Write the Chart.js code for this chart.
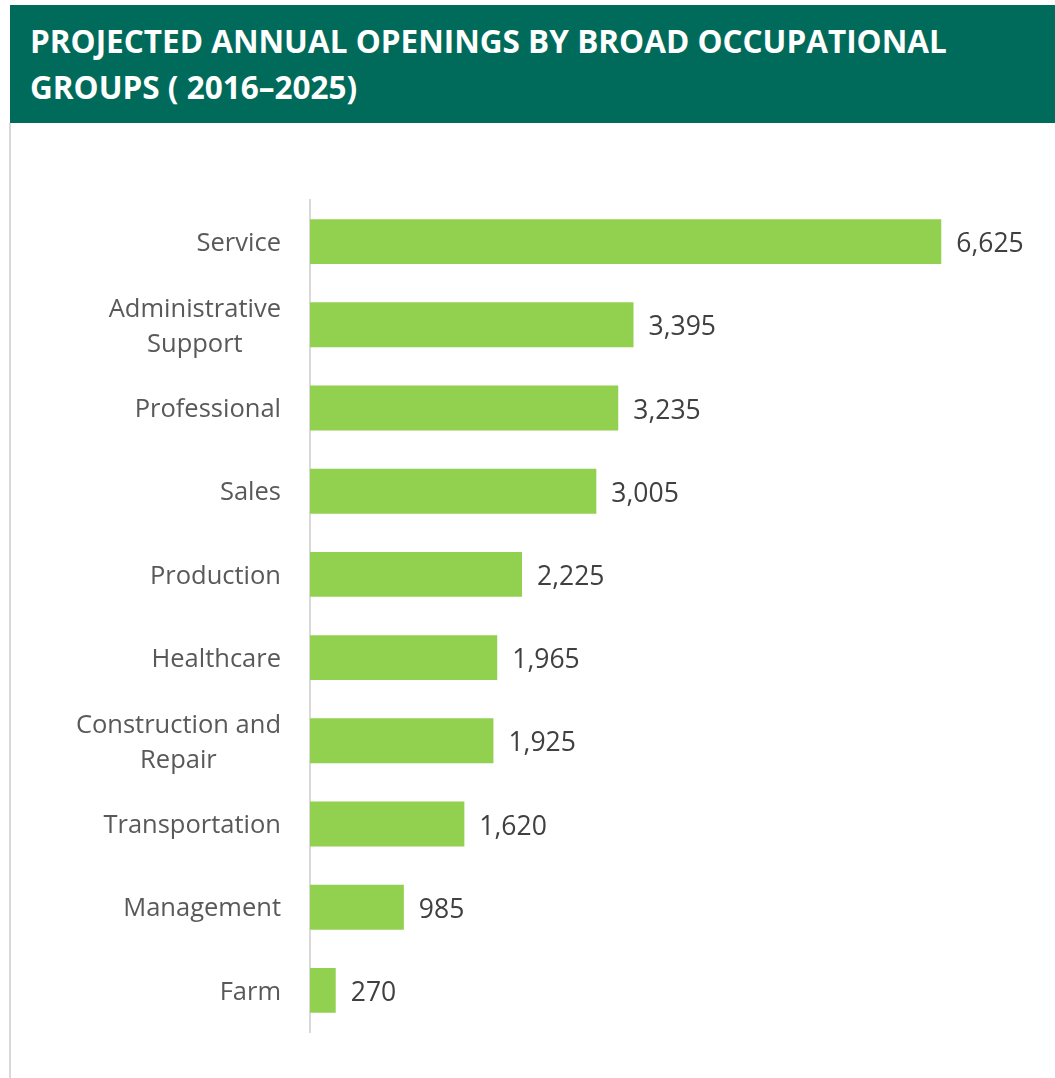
<!DOCTYPE html>
<html>
<head>
<meta charset="utf-8">
<script src="https://cdn.jsdelivr.net/npm/chart.js@4/dist/chart.umd.min.js"></script>
<style>
  body { margin: 0; background: #fff; width: 1055px; height: 1078px; position: relative; overflow: hidden; }
  #header {
    position: absolute; left: 10px; top: 5px; width: 1045px; height: 118px;
    background: #006B5B; color: #fff;
    font-family: "Open Sans", sans-serif; font-weight: bold; font-size: 31.5px;
  }
  #header .l1 { position: absolute; left: 20px; top: 14px; white-space: nowrap; }
  #header .l2 { position: absolute; left: 20px; top: 60px; white-space: nowrap; }
  #edge { position: absolute; left: 9px; top: 123px; width: 2px; height: 955px; background: #d9d9d9; }
  #chart { position: absolute; left: 11px; top: 123px; }
</style>
</head>
<body>
<div id="header">
  <div class="l1">PROJECTED ANNUAL OPENINGS BY BROAD OCCUPATIONAL</div>
  <div class="l2">GROUPS ( 2016–2025)</div>
</div>
<div id="edge"></div>
<canvas id="chart" width="1044" height="955"></canvas>

<script>
  // categories, top to bottom
  var categories = [
    ['Service'],
    ['Administrative', 'Support'],
    ['Professional'],
    ['Sales'],
    ['Production'],
    ['Healthcare'],
    ['Construction and', 'Repair'],
    ['Transportation'],
    ['Management'],
    ['Farm']
  ];
  var openings = [6625, 3395, 3235, 3005, 2225, 1965, 1925, 1620, 985, 270];

  var labelFont = '25.5px "Open Sans", sans-serif';
  var valueFont = '26.5px "Open Sans", sans-serif';

  // category names, right-aligned block with centred lines
  var categoryLabels = {
    id: 'categoryLabels',
    afterDraw: function(chart) {
      var ctx = chart.ctx;
      var yScale = chart.scales.y;
      var right = yScale.right - 29;
      ctx.save();
      ctx.font = labelFont;
      ctx.fillStyle = '#595959';
      ctx.textAlign = 'center';
      ctx.textBaseline = 'middle';
      categories.forEach(function(lines, i) {
        var maxW = 0;
        lines.forEach(function(t) { maxW = Math.max(maxW, ctx.measureText(t).width); });
        var cx = right - maxW / 2;
        var y = yScale.getPixelForValue(i) + 2;
        var lh = 35;
        var y0 = y - (lines.length - 1) * lh / 2;
        lines.forEach(function(t, k) { ctx.fillText(t, cx, y0 + k * lh); });
      });
      ctx.restore();
    }
  };

  // value labels at the end of each bar
  var valueLabels = {
    id: 'valueLabels',
    afterDatasetsDraw: function(chart) {
      var ctx = chart.ctx;
      var meta = chart.getDatasetMeta(0);
      ctx.save();
      ctx.font = valueFont;
      ctx.fillStyle = '#404040';
      ctx.textAlign = 'left';
      ctx.textBaseline = 'middle';
      meta.data.forEach(function(bar, i) {
        ctx.fillText(openings[i].toLocaleString('en-US'), bar.x + 15, bar.y + 3);
      });
      ctx.restore();
    }
  };

  new Chart(document.getElementById('chart'), {
    type: 'bar',
    data: {
      labels: categories.map(function(c) { return c.join(' '); }),
      datasets: [{
        data: openings,
        backgroundColor: '#92D050',
        borderWidth: 0,
        categoryPercentage: 1,
        barPercentage: 0.54
      }]
    },
    options: {
      indexAxis: 'y',
      responsive: false,
      animation: false,
      layout: { padding: { top: 77, bottom: 46, left: 0, right: 78 } },
      plugins: { legend: { display: false }, tooltip: { enabled: false }, title: { display: false } },
      scales: {
        x: { display: false, min: 0, max: 7000 },
        y: {
          ticks: { display: false },
          grid: { display: false },
          border: { display: true, color: '#d9d9d9', width: 2 },
          afterFit: function(scale) { scale.width = 299; }
        }
      }
    },
    plugins: [categoryLabels, valueLabels]
  });
</script>
</body>
</html>
